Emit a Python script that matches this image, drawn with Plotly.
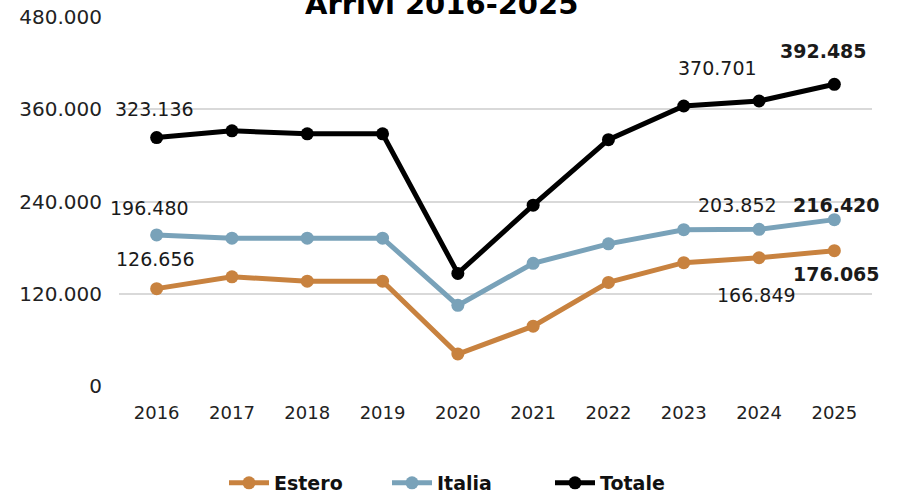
import plotly.graph_objects as go

years = ["2016", "2017", "2018", "2019", "2020", "2021", "2022", "2023", "2024", "2025"]
estero = [126656, 142000, 136400, 136400, 41600, 77800, 134700, 160400, 166849, 176065]
italia = [196480, 192300, 192300, 192300, 104900, 159600, 184900, 203300, 203852, 216420]
totale = [323136, 332000, 328000, 328000, 146500, 235200, 320400, 364200, 370701, 392485]
y_ticks = [0, 120000, 240000, 360000, 480000]
title_text = "Arrivi 2016-2025"

FONT = "DejaVu Sans"
colors = {"Estero": "#C8823F", "Italia": "#79A2B9", "Totale": "#000000"}

def fmt(v):
    return f"{v:,}".replace(",", ".")

fig = go.Figure()
for name, vals in [("Estero", estero), ("Italia", italia), ("Totale", totale)]:
    fig.add_trace(go.Scatter(
        x=years, y=vals, name=name, mode="lines+markers",
        line=dict(color=colors[name], width=5),
        marker=dict(color=colors[name], size=13),
        cliponaxis=False,
    ))

# labelled points: (series, index, xshift, yshift, bold)
label_specs = [
    (totale, 0, -2, 29, False), (italia, 0, -7, 27, False), (estero, 0, -1, 30, False),
    (totale, 8, -42, 33, False), (italia, 8, -22, 24, False), (estero, 8, -3, -37, False),
    (totale, 9, -11, 33, True), (italia, 9, 2, 15, True), (estero, 9, 2, -23, True),
]
for series, i, xs, ys, bold in label_specs:
    txt = fmt(series[i])
    fig.add_annotation(
        x=i, y=series[i], xref="x", yref="y",
        text=f"<b>{txt}</b>" if bold else txt, showarrow=False, xshift=xs, yshift=ys,
        font=dict(family=FONT, size=19, color="#1a1a1a"),
    )

plot_left, plot_right = 119, 897 - 25
plot_top, plot_bottom = 17, 497 - 111
fig.add_annotation(
    x=(441 - plot_left) / (plot_right - plot_left), y=1, xref="paper", yref="paper",
    yanchor="middle", xanchor="center",
    text=f"<b>{title_text}</b>", showarrow=False, yshift=13,
    font=dict(family=FONT, size=29, color="#000"),
)

fig.update_layout(
    width=897, height=497,
    margin=dict(l=plot_left, r=897 - plot_right, t=plot_top, b=497 - plot_bottom, autoexpand=False),
    paper_bgcolor="white", plot_bgcolor="white",
    separators=",.",
    showlegend=True,
    legend=dict(
        orientation="h",
        x=(224 - plot_left) / (plot_right - plot_left),
        y=(plot_bottom - 483) / (plot_bottom - plot_top),
        xanchor="left", yanchor="middle",
        font=dict(family=FONT, size=19, color="#111", weight="bold"),
        entrywidth=108, itemwidth=40,
    ),
    font=dict(family=FONT, color="#222"),
)
fig.update_xaxes(
    type="category", range=[-0.5, 9.5], showgrid=False, showline=False,
    ticks="", tickfont=dict(family=FONT, size=18, color="#222"), ticklabelstandoff=14,
)
fig.update_yaxes(
    range=[0, 480000], tickvals=y_ticks, tickformat=",", showgrid=True,
    gridcolor="#d9d9d9", gridwidth=1.5, zeroline=False, showline=False,
    ticks="", tickfont=dict(family=FONT, size=20, color="#222"), ticklabelstandoff=16,
)

fig.write_html("out.html", config={"displayModeBar": False},
               post_script="document.body.style.margin='0';")
